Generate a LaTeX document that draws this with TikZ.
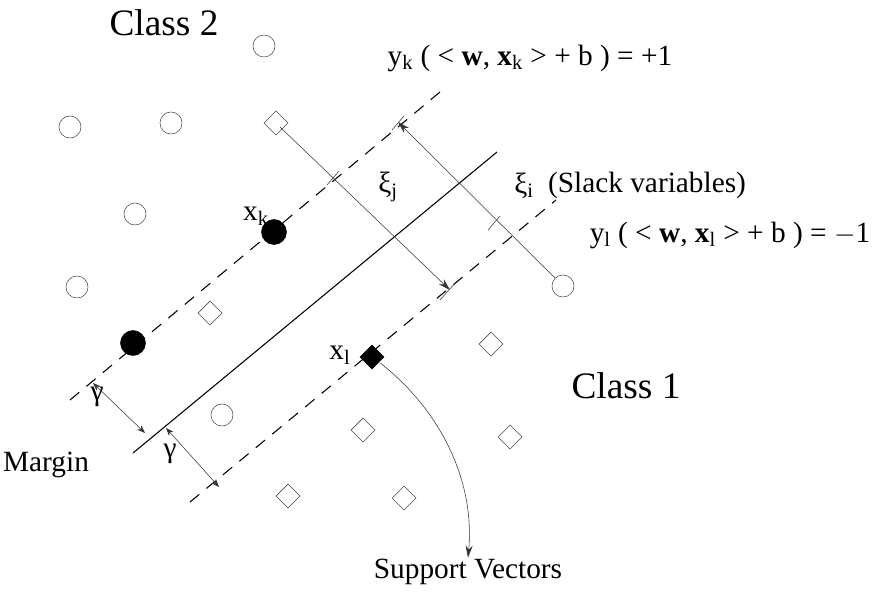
\documentclass[tikz,border=0pt]{standalone}
\usepackage{amsmath}
\usepackage{fontspec}
\setmainfont{Liberation Serif}
\usetikzlibrary{arrows.meta}
\usetikzlibrary{shapes}

\tikzset{
  open dot/.style={circle,draw=black!70,fill=white,inner sep=0pt,minimum size=22pt*0.75},
  full dot/.style={circle,draw,fill=black,inner sep=0pt,minimum size=25pt*0.75},
  open diam/.style={diamond,draw=black!70,fill=white,inner sep=0pt,minimum size=24pt*0.75},
  full diam/.style={diamond,draw,fill=black,inner sep=0pt,minimum size=24pt*0.75},
  lbl/.style={font=\fontsize{22}{25}\selectfont,inner sep=1pt},
  big/.style={font=\fontsize{28}{32}\selectfont}
}

\begin{document}
\begin{tikzpicture}[x=0.75pt,y=-0.75pt]
\useasboundingbox (0,0) rectangle (896,612);
% hyperplane and margins
\draw [thick] (133,453) -- (497,152);
\draw [thick,dashed,dash pattern=on 9pt off 7pt] (70,400) -- (440,92);
\draw [thick,dashed,dash pattern=on 9pt off 7pt] (190,502) -- (556,200);
% class 2
\node [open dot] (c1) at (264,46) {};
\node [open dot] (c2) at (70,127) {};
\node [open dot] (c3) at (171,123) {};
\node [open dot] (c4) at (135,214) {};
\node [open dot] (c5) at (77,287) {};
\node [open dot] (c6) at (222,415) {};
\node [open dot] (c7) at (563,286) {};
\node [full dot] (xk) at (274,232) {};
\node [full dot] (f2) at (133,343) {};
% class 1
\node [open diam] (d1) at (276,123) {};
\node [open diam] (d2) at (210,313) {};
\node [open diam] (d3) at (491,344) {};
\node [open diam] (d4) at (363,430) {};
\node [open diam] (d5) at (510,437) {};
\node [open diam] (d6) at (288,496) {};
\node [open diam] (d7) at (404,498) {};
\node [full diam] (xl) at (372,357) {};
% slack arrows
\coordinate (sj) at (450,290);
\coordinate (si) at (398,122);
\draw [black!80,-{Stealth[length=12pt*0.75,width=7pt*0.75]}] (d1.center) ++(4,4) -- (sj);
\draw [black!80,-{Stealth[length=12pt*0.75,width=7pt*0.75]}] (c7) -- (si);
\draw [black!80] (327,185) -- (339,171);
\draw [black!80] (440,300) -- (456,282);
\draw [black!80] (392,130) -- (404,116);
\draw [black!80] (488,230) -- (500,216);
% margin arrows
\coordinate (g1) at (93,383);
\coordinate (g2) at (145,433);
\coordinate (g3) at (166,428);
\coordinate (g4) at (219,487);
\draw [black!80,{Stealth[length=8pt*0.75]}-{Stealth[length=8pt*0.75]}] (g1) -- (g2);
\draw [black!80,{Stealth[length=8pt*0.75]}-{Stealth[length=8pt*0.75]}] (g3) -- (g4);
% support vectors
\node [lbl] (sv) at (468,572) {Support Vectors};
\draw [black!80,-{Stealth[length=12pt*0.75,width=7pt*0.75]}] (xl.east) ++(-4,6) .. controls (440,410) and (475,480) .. (sv.north);
% labels
\node [big] (cl2) at (164,23) {Class 2};
\node [big] (cl1) at (626,386) {Class 1};
\node [lbl] (mg) at (46,465) {Margin};
\node [lbl] (ga1) at (97,397) {γ};
\node [lbl] (ga2) at (170,454) {γ};
\node [lbl] (lk) at (256,216) {x$_{\text{k}}$};
\node [lbl] (ll) at (340,355) {x$_{\text{l}}$};
\node [lbl] (xj) at (388,187) {ξ$_{\text{j}}$};
\node [lbl] (xi) at (524,186) {ξ$_{\text{i}}$};
\node [lbl] (sl) at (647,185) {(Slack variables)};
\node [lbl] (e1) at (530,58) {y$_{\text{k}}$ ( < \textbf{w}, \textbf{x}$_{\text{k}}$ > + b ) = +1};
\node [lbl] (e2) at (730,235) {y$_{\text{l}}$ ( < \textbf{w}, \textbf{x}$_{\text{l}}$ > + b ) = $-$1};
\end{tikzpicture}
\end{document}
